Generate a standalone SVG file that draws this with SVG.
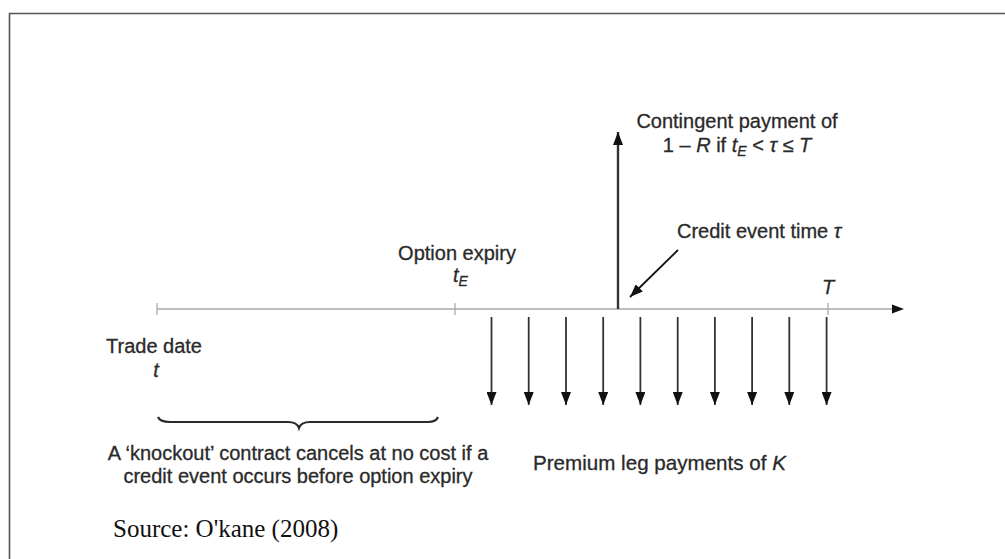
<svg xmlns="http://www.w3.org/2000/svg" width="1005" height="559" viewBox="0 0 1005 559">
<style>
.t{font-family:"Liberation Sans",Arial,sans-serif;font-size:20px;fill:#2a2a2a;stroke:#2a2a2a;stroke-width:0.3}
.i{font-style:italic}
.sub{font-size:14px}
.src{font-family:"Liberation Serif","Times New Roman",serif;font-size:25px;fill:#111}
.axis{stroke:#a8a8a8;stroke-width:1.6;fill:none}
.tick{stroke:#b0b0b0;stroke-width:1.4}
.down{stroke:#333;stroke-width:1.8;fill:none}
</style>
<defs>
<marker id="ahd" viewBox="0 0 13 10" refX="13" refY="5" markerWidth="13" markerHeight="10" markerUnits="userSpaceOnUse" orient="auto">
<path d="M0,0 L13,5 L0,10 z" fill="#111"/>
</marker>
</defs>
<rect width="1005" height="559" fill="#fff"/>
<g id="frame">
<path d="M9.5,559 V13.5 H1005" stroke="#555" stroke-width="1.6" fill="none"/>
</g>
<g id="connectors">
<line class="axis" x1="157" y1="309" x2="894" y2="309"/>
<path d="M892,304.5 L904,309 L892,313.5 z" fill="#111"/>
<line class="tick" x1="157" y1="303" x2="157" y2="315"/>
<line class="tick" x1="455" y1="303" x2="455" y2="315"/>
<line class="tick" x1="828" y1="303" x2="828" y2="315"/>
<line x1="618" y1="309" x2="618" y2="132" stroke="#333" stroke-width="2.4" marker-end="url(#ahd)"/>
<line x1="678" y1="250" x2="630" y2="297" stroke="#111" stroke-width="1.8" marker-end="url(#ahd)"/>
<g marker-end="url(#ahd)">
<line class="down" x1="491.5" y1="317" x2="491.5" y2="405"/>
<line class="down" x1="528.7" y1="317" x2="528.7" y2="405"/>
<line class="down" x1="566" y1="317" x2="566" y2="405"/>
<line class="down" x1="603.2" y1="317" x2="603.2" y2="405"/>
<line class="down" x1="640.4" y1="317" x2="640.4" y2="405"/>
<line class="down" x1="677.7" y1="317" x2="677.7" y2="405"/>
<line class="down" x1="714.9" y1="317" x2="714.9" y2="405"/>
<line class="down" x1="752.1" y1="317" x2="752.1" y2="405"/>
<line class="down" x1="789.3" y1="317" x2="789.3" y2="405"/>
<line class="down" x1="826.6" y1="317" x2="826.6" y2="405"/>
</g>
<path d="M158,417 Q160,422 170,422 L288,422 Q297,422 299,428 Q301,422 310,422 L428,422 Q436,422 438,417" stroke="#2a2a2a" stroke-width="2.2" fill="none"/>
</g>
<g id="contingent">
<text class="t" x="737" y="128" text-anchor="middle">Contingent payment of</text>
<text class="t" x="737" y="152" text-anchor="middle">1 – <tspan class="i">R</tspan> if <tspan class="i">t</tspan><tspan class="i sub" dy="4">E</tspan><tspan dy="-4"> &lt; </tspan><tspan class="i">τ</tspan> ≤ <tspan class="i">T</tspan></text>
</g>
<g id="credit-event">
<text class="t" x="677" y="238">Credit event time <tspan class="i">τ</tspan></text>
</g>
<g id="maturity">
<text class="t i" x="828" y="294" text-anchor="middle">T</text>
</g>
<g id="option-expiry">
<text class="t" x="457" y="260" text-anchor="middle">Option expiry</text>
<text class="t" x="453" y="282"><tspan class="i">t</tspan><tspan class="i sub" dy="4">E</tspan></text>
</g>
<g id="trade-date">
<text class="t" x="154" y="353" text-anchor="middle">Trade date</text>
<text class="t i" x="156" y="377" text-anchor="middle">t</text>
</g>
<g id="knockout">
<text class="t" x="298" y="460" text-anchor="middle">A ‘knockout’ contract cancels at no cost if a</text>
<text class="t" x="298" y="483" text-anchor="middle">credit event occurs before option expiry</text>
</g>
<g id="premium">
<text class="t" x="533" y="470" style="font-size:20.6px">Premium leg payments of <tspan class="i">K</tspan></text>
</g>
<g id="source">
<text class="src" x="113" y="537">Source: O'kane (2008)</text>
</g>
</svg>
